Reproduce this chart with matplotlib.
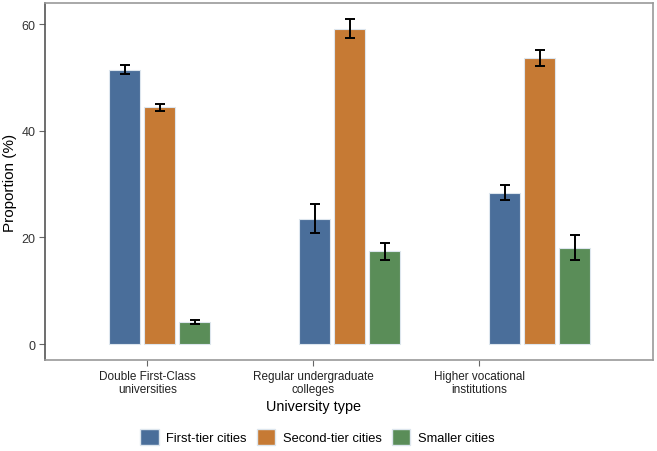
import numpy as np
import matplotlib
matplotlib.use('Agg')
import matplotlib.pyplot as plt
from matplotlib.patches import Patch

plt.rcParams['font.family'] = ['Liberation Sans', 'DejaVu Sans']

# ==================== data ====================
categories = ['Double First-Class\nuniversities', 'Regular undergraduate\ncolleges',
              'Higher vocational\ninstitutions']
series = ['First-tier cities', 'Second-tier cities', 'Smaller cities']
values = {
    'First-tier cities':  [51.4, 23.5, 28.4],
    'Second-tier cities': [44.4, 59.2, 53.6],
    'Smaller cities':     [4.1, 17.4, 18.1],
}
err_low = {
    'First-tier cities':  [50.6, 20.8, 27.0],
    'Second-tier cities': [43.8, 57.4, 52.1],
    'Smaller cities':     [3.75, 15.8, 15.75],
}
err_high = {
    'First-tier cities':  [52.3, 26.25, 29.8],
    'Second-tier cities': [45.1, 61.1, 55.1],
    'Smaller cities':     [4.5, 19.0, 20.4],
}
COLORS = {
    'First-tier cities':  '#4A6E9A',
    'Second-tier cities': '#C67A34',
    'Smaller cities':     '#5A8D58',
}

group_pos = np.array([1, 2, 3])
tick_pos = [0.936, 1.81, 2.683]   # tick labels sit left of the bar groups in the original
width = 0.166
step = 0.184

fig = plt.figure(figsize=(6.57, 4.52), dpi=100)
ax = fig.add_axes([0.0685, 0.2013, 0.9255, 0.7897])

for i, s in enumerate(series):
    x = group_pos + (i - 1) * step
    v = np.array(values[s])
    lo = v - np.array(err_low[s])
    hi = np.array(err_high[s]) - v
    ax.bar(x, v, width=width, color=COLORS[s], edgecolor='#DDE6EE', linewidth=0.8, zorder=2)
    ax.errorbar(x, v, yerr=[lo, hi], fmt='none', ecolor='black', elinewidth=1.4,
                capsize=3.5, capthick=1.4, zorder=3)

ax.set_xlim(0.397, 3.597)
ax.set_ylim(-3, 64)
ax.set_yticks([0, 20, 40, 60])
ax.set_xticks(tick_pos)
ax.set_xticklabels(categories, fontsize=8.5, color='#222222', linespacing=1.1)
ax.tick_params(axis='y', labelsize=9, colors='#333333', length=4, color='#666666', pad=3)
ax.tick_params(axis='x', length=4, color='#666666', pad=3)
for sp in ax.spines.values():
    sp.set_color('#999999')
    sp.set_linewidth(1.2)
ax.spines['left'].set_color('#555555')

ax.set_ylabel('Proportion (%)', fontsize=11, labelpad=3)
ax.set_xlabel('University type', fontsize=10.4)
ax.xaxis.set_label_coords(0.4416, -0.108)

handles = [Patch(facecolor=COLORS[s], edgecolor='#DDE6EE', label=s) for s in series]
fig.legend(handles=handles, loc='center', bbox_to_anchor=(0.483, 0.031), ncol=3,
           frameon=False, fontsize=9.3, handlelength=1.45, handleheight=1.45,
           handletextpad=0.6, columnspacing=0.75)

fig.savefig('out.png', dpi=100)
